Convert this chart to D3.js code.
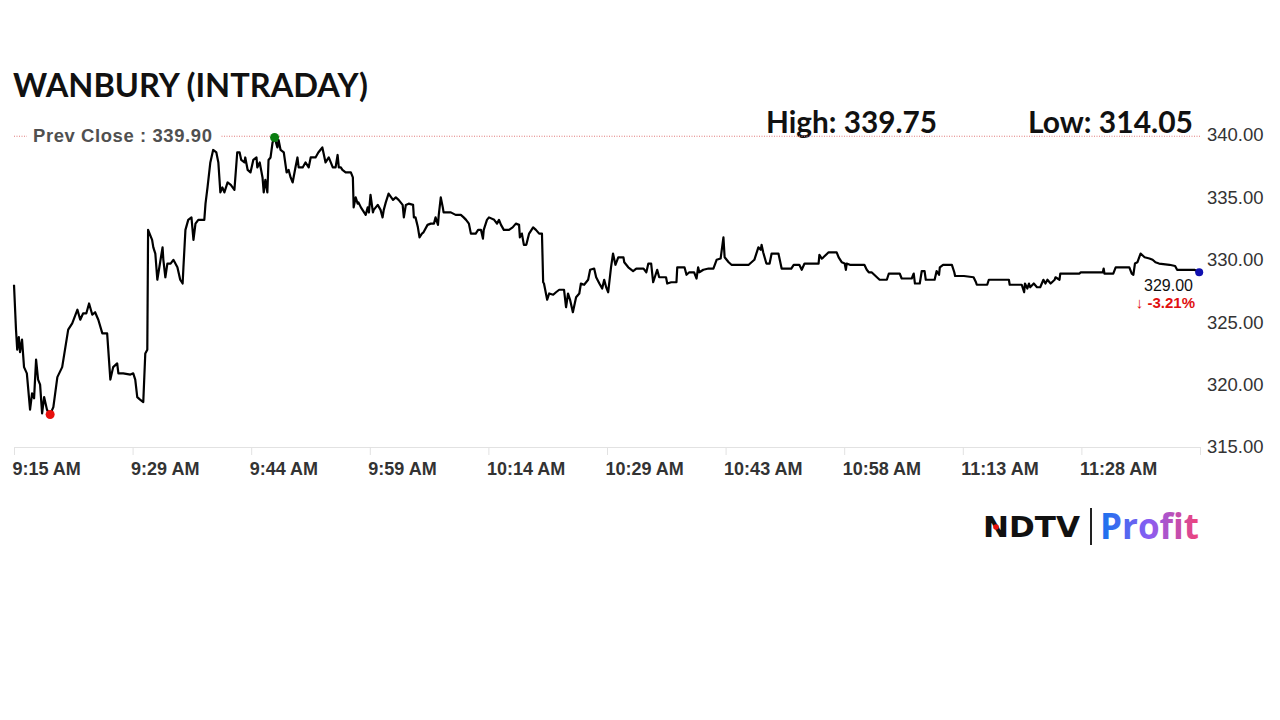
<!DOCTYPE html>
<meta charset="utf-8">
<script src="https://d3js.org/d3.v7.min.js"></script>
<body style="margin:0;background:#fff">
<div id="chart"></div>
<script>
var title = "WANBURY (INTRADAY)";
var prevClose = 339.90;
var dayHigh = 339.75, dayLow = 314.05;
var lastPrice = 329.00, changePct = -3.21;
var yTicks = [315, 320, 325, 330, 335, 340];
var xTickLabels = ["9:15 AM","9:29 AM","9:44 AM","9:59 AM","10:14 AM","10:29 AM","10:43 AM","10:58 AM","11:13 AM","11:28 AM",""];
var sessionMinutes = 147.7; // minutes after 9:15 covered by the axis
// [minutes after 9:15, price]
var trades = [[0,328.0],[0.25,324.4],[0.4,322.8],[0.6,323.8],[0.75,322.6],[1.0,323.6],[1.25,321.4],[1.6,320.9],[2.0,318.0],[2.25,319.3],[2.5,318.9],[2.75,322.0],[3.0,320.4],[3.25,320.0],[3.5,317.7],[3.75,319.0],[4.1,318.0],[4.5,317.6],[4.9,318.2],[5.4,320.6],[6.0,321.4],[6.4,323.0],[6.75,324.4],[7.25,324.9],[7.9,326.0],[8.25,325.2],[8.6,325.7],[9.0,325.7],[9.35,326.5],[9.75,325.6],[10.1,325.8],[10.5,325.2],[11.0,324.1],[11.6,324.1],[12.0,320.4],[12.35,321.4],[12.85,321.7],[13.0,320.9],[13.6,320.9],[14.5,320.8],[14.85,320.9],[15.1,320.4],[15.35,319.0],[15.7,318.8],[16.1,318.6],[16.35,322.5],[16.6,322.8],[16.7,332.4],[17.2,331.6],[17.35,331.0],[17.6,330.5],[17.85,328.4],[18.1,329.4],[18.5,331.0],[18.6,330.0],[18.85,328.6],[19.1,329.7],[19.5,329.7],[19.85,330.0],[20.35,329.4],[20.7,328.4],[21.0,328.1],[21.1,329.4],[21.35,332.4],[21.7,333.2],[22.1,333.4],[22.35,331.6],[22.6,332.9],[22.95,333.2],[23.7,333.2],[23.85,334.5],[24.1,335.8],[24.45,337.8],[24.8,338.8],[25.2,338.6],[25.45,337.8],[25.7,335.4],[25.95,335.8],[26.2,335.4],[26.6,336.2],[27.0,336.0],[27.45,335.6],[27.8,338.6],[28.1,338.6],[28.3,338.0],[28.7,337.8],[28.8,338.2],[29.1,337.2],[29.45,337.0],[29.8,338.0],[30.2,338.2],[30.3,337.4],[30.6,337.8],[30.95,336.6],[31.1,335.4],[31.3,336.4],[31.55,335.4],[31.7,338.0],[31.95,338.2],[32.2,339.4],[32.45,339.8],[32.8,339.0],[32.95,339.6],[33.2,338.8],[33.6,338.6],[33.95,337.0],[34.2,337.2],[34.45,336.6],[34.7,336.2],[35.05,337.4],[35.3,338.2],[35.45,337.4],[35.95,337.4],[36.3,337.8],[36.7,337.4],[36.95,338.2],[37.55,338.2],[37.9,338.6],[38.4,339.0],[38.8,337.8],[39.2,338.2],[39.45,337.8],[39.7,337.4],[40.05,337.4],[40.3,338.4],[40.45,337.4],[40.7,337.4],[40.9,337.2],[41.3,337.0],[41.7,337.0],[41.95,337.0],[42.2,336.6],[42.3,334.2],[42.55,335.0],[42.8,334.5],[42.9,334.6],[43.2,334.2],[43.4,334.0],[43.8,333.6],[44.05,334.2],[44.2,333.8],[44.4,335.2],[44.7,333.8],[44.8,334.0],[45.3,334.4],[45.65,334.0],[45.9,333.4],[46.05,334.0],[46.3,334.6],[46.65,335.3],[47.2,334.8],[47.55,335.0],[47.9,334.8],[48.4,334.4],[48.55,333.4],[48.8,334.4],[49.15,334.5],[49.7,334.4],[49.8,333.4],[50.0,333.4],[50.3,332.6],[50.5,331.8],[50.8,332.1],[51.0,332.2],[51.5,332.8],[51.9,332.9],[52.3,332.9],[52.5,333.4],[52.8,332.8],[52.9,333.6],[53.15,335.0],[53.4,334.2],[53.5,333.8],[54.0,333.8],[54.4,333.8],[55.0,333.6],[55.65,333.6],[56.0,333.4],[56.3,333.2],[56.65,332.9],[56.9,332.1],[57.5,332.1],[57.8,332.4],[58.15,332.4],[58.4,331.7],[58.5,332.4],[58.9,333.2],[59.15,333.4],[59.8,333.2],[60.15,332.9],[60.4,333.2],[60.65,332.8],[61.0,332.4],[61.65,332.4],[62.1,332.6],[62.5,332.9],[62.9,332.8],[63.0,331.8],[63.25,332.1],[63.5,331.2],[63.8,331.2],[64.15,332.1],[64.65,332.6],[65.0,332.4],[65.4,332.1],[65.75,332.1],[65.9,328.2],[66.0,328.1],[66.4,326.8],[66.65,327.3],[67.15,327.2],[67.5,327.4],[67.9,327.6],[68.5,327.6],[68.75,326.2],[69.0,327.3],[69.25,326.8],[69.6,325.8],[70.0,327.0],[70.4,327.3],[70.6,328.1],[71.0,328.0],[71.5,328.4],[71.75,329.2],[72.25,329.3],[72.5,328.6],[72.9,328.1],[73.25,327.7],[73.5,328.4],[73.75,327.8],[74.0,327.4],[74.35,329.4],[74.6,330.5],[74.9,329.6],[75.25,330.2],[75.9,330.2],[76.0,329.8],[76.5,329.4],[77.1,329.1],[77.5,329.3],[78.4,329.3],[78.75,329.0],[79.0,329.7],[79.35,329.7],[79.6,328.2],[79.75,328.5],[80.1,329.2],[80.35,328.6],[81.2,328.6],[81.35,328.1],[81.85,328.2],[82.5,328.2],[82.6,329.4],[83.5,329.4],[83.75,328.8],[84.1,329.0],[84.7,329.0],[85.0,328.5],[85.2,329.4],[85.35,329.0],[85.85,329.2],[86.5,329.3],[87.1,329.3],[87.5,330.0],[88.0,330.1],[88.35,331.8],[88.5,330.2],[89.0,329.8],[89.35,329.6],[91.5,329.6],[91.85,329.8],[92.2,330.0],[92.7,331.0],[93.0,330.8],[93.1,331.2],[93.3,330.6],[93.7,329.7],[94.1,329.7],[94.35,330.5],[95.2,330.5],[95.6,329.3],[96.8,329.3],[97.1,329.6],[97.8,329.6],[98.1,329.2],[98.45,329.7],[100.2,329.7],[100.3,330.4],[100.6,330.1],[100.8,330.2],[101.45,330.6],[102.45,330.6],[102.7,330.2],[103.1,329.8],[103.45,329.7],[103.6,329.2],[103.7,329.7],[104.1,329.6],[105.9,329.6],[106.2,329.2],[106.45,329.0],[106.8,329.0],[107.8,328.4],[108.7,328.4],[108.95,328.9],[110.3,328.9],[110.55,328.5],[111.8,328.5],[112.05,328.9],[112.2,328.1],[112.8,328.1],[113.05,329.1],[113.4,329.1],[113.55,328.4],[114.65,328.4],[114.9,329.1],[115.2,328.8],[115.3,329.4],[115.7,329.6],[116.8,329.6],[117.1,329.0],[117.2,328.7],[118.3,328.7],[119.5,328.6],[119.8,328.2],[119.9,328.0],[121.2,328.0],[121.4,328.4],[123.9,328.4],[124.0,328.0],[125.5,328.0],[125.8,327.4],[125.9,328.1],[126.2,327.7],[126.4,328.1],[126.55,327.8],[127.0,328.1],[127.4,327.8],[127.8,327.8],[128.2,328.4],[128.45,328.1],[128.7,328.4],[129.1,328.1],[129.6,328.4],[129.7,328.6],[130.2,328.4],[130.3,328.9],[132.7,328.9],[132.85,329.0],[135.6,329.0],[135.7,329.3],[135.8,328.9],[136.9,328.9],[137.2,329.4],[138.9,329.4],[139.2,328.9],[139.4,328.8],[139.6,329.7],[139.9,329.8],[140.3,330.5],[140.8,330.2],[141.4,330.1],[141.8,330.0],[142.15,329.8],[142.6,329.7],[143.9,329.6],[144.6,329.5],[144.85,329.2],[146.1,329.2],[147.0,329.2],[147.6,329.0]];

var svg = d3.select('#chart').append('svg').attr('width', 1280).attr('height', 720)
  .style('display', 'block').style('background', '#fff');

var x = d3.scaleLinear().domain([0, sessionMinutes]).range([14, 1200]);
var y = d3.scaleLinear().domain([315, 340]).range([447, 135]);

// shrink / grow a text to a given width
function fitWidth(sel, w) {
  var len = sel.node().getComputedTextLength();
  var fs = parseFloat(sel.attr('font-size'));
  sel.attr('font-size', fs * w / len);
}

// title
var t = svg.append('text').attr('x', 13).attr('y', 97).text(title)
  .attr('font-family', 'Lato, sans-serif').attr('font-weight', 700)
  .attr('font-size', 32).attr('fill', '#111');
fitWidth(t, 355);

// high / low
var hi = svg.append('text').attr('x', 766).attr('y', 133).text('High: ' + dayHigh.toFixed(2))
  .attr('font-family', 'Lato, sans-serif').attr('font-weight', 700)
  .attr('font-size', 28).attr('fill', '#111');
fitWidth(hi, 171);
var lo = svg.append('text').attr('x', 1193).attr('y', 133).attr('text-anchor', 'end')
  .text('Low: ' + dayLow.toFixed(2))
  .attr('font-family', 'Lato, sans-serif').attr('font-weight', 700)
  .attr('font-size', 28).attr('fill', '#111');
fitWidth(lo, 165);

// x axis
var xTickVals = d3.range(xTickLabels.length).map(function(i){ return i * sessionMinutes / 10; });
var gx = svg.append('g').attr('transform', 'translate(0,447)')
  .call(d3.axisBottom(x).tickValues(xTickVals).tickSize(8).tickSizeOuter(0)
    .tickFormat(function(d, i){ return xTickLabels[i]; }));
gx.select('.domain').attr('stroke', '#e2e2e2');
gx.selectAll('.tick line').attr('stroke', '#e2e2e2');
gx.selectAll('.tick text').attr('text-anchor', 'start').attr('x', -2).attr('y', 15)
  .attr('font-family', '"Liberation Sans", Arial, sans-serif').attr('font-weight', 700)
  .attr('font-size', 18).attr('fill', '#333');

// y axis
var gy = svg.append('g').attr('transform', 'translate(1207,0)')
  .call(d3.axisRight(y).tickValues(yTicks).tickSize(0).tickPadding(0).tickFormat(d3.format('.2f')));
gy.select('.domain').remove();
gy.selectAll('.tick text').attr('font-family', '"Liberation Sans", Arial, sans-serif')
  .attr('font-size', 18.5).attr('fill', '#333');

// previous close
svg.append('line').attr('x1', x(0)).attr('x2', 1200)
  .attr('y1', y(prevClose)).attr('y2', y(prevClose))
  .attr('stroke', '#e07a7a').attr('stroke-width', 1).attr('stroke-dasharray', '1,1.5');
svg.append('rect').attr('x', 27).attr('y', y(prevClose) - 10).attr('width', 193).attr('height', 20).attr('fill', '#fff');
var pc = svg.append('text').attr('x', 33).attr('y', 142).text('Prev Close : ' + prevClose.toFixed(2))
  .attr('font-family', '"Liberation Sans", Arial, sans-serif').attr('font-weight', 700)
  .attr('font-size', 18).attr('letter-spacing', 0.6).attr('fill', '#505050');
fitWidth(pc, 180);

// price line
var line = d3.line().x(function(d){ return x(d[0]); }).y(function(d){ return y(d[1]); });
svg.append('path').datum(trades).attr('d', line).attr('fill', 'none')
  .attr('stroke', '#000').attr('stroke-width', 2.2).attr('stroke-linejoin', 'round');

var lowPt = d3.least(trades, function(d){ return d[1]; });
var highPt = d3.greatest(trades, function(d){ return d[1]; });
var lastPt = trades[trades.length - 1];
svg.append('circle').attr('cx', x(lowPt[0])).attr('cy', y(lowPt[1])).attr('r', 4.5).attr('fill', '#e8100c');
svg.append('circle').attr('cx', x(highPt[0])).attr('cy', y(highPt[1])).attr('r', 4.5).attr('fill', '#0a7d10');
svg.append('circle').attr('cx', x(lastPt[0])).attr('cy', y(lastPt[1])).attr('r', 4).attr('fill', '#1010b0');

// last price label
svg.append('text').attr('x', 1193).attr('y', 291).attr('text-anchor', 'end')
  .text(lastPrice.toFixed(2))
  .attr('font-family', '"Liberation Sans", Arial, sans-serif').attr('font-size', 16).attr('fill', '#111');
svg.append('text').attr('x', 1195).attr('y', 308).attr('text-anchor', 'end')
  .text('\u2193 ' + changePct.toFixed(2) + '%')
  .attr('font-family', '"Liberation Sans", Arial, sans-serif').attr('font-weight', 700)
  .attr('font-size', 15).attr('fill', '#e01010');

// logo
var defs = svg.append('defs');
var grad = defs.append('linearGradient').attr('id', 'pg').attr('x1', '0%').attr('x2', '100%');
grad.append('stop').attr('offset', '0%').attr('stop-color', '#1673ee');
grad.append('stop').attr('offset', '50%').attr('stop-color', '#8a5cf2');
grad.append('stop').attr('offset', '100%').attr('stop-color', '#f0437a');
svg.append('text').attr('x', 983).attr('y', 537).text('NDTV')
  .attr('font-family', '"DejaVu Sans", sans-serif').attr('font-weight', 700)
  .attr('font-size', 29).attr('textLength', 97).attr('lengthAdjust', 'spacingAndGlyphs').attr('fill', '#111');
svg.append('circle').attr('cx', 996).attr('cy', 527).attr('r', 2.8).attr('fill', '#e8100c');
svg.append('line').attr('x1', 1091).attr('x2', 1091).attr('y1', 508).attr('y2', 545)
  .attr('stroke', '#222').attr('stroke-width', 2);
svg.append('text').attr('x', 1100).attr('y', 539).text('Profit')
  .attr('font-family', '"Open Sans", sans-serif').attr('font-weight', 700)
  .attr('font-size', 36).attr('textLength', 99).attr('lengthAdjust', 'spacingAndGlyphs').attr('fill', 'url(#pg)');
</script>
</body>
